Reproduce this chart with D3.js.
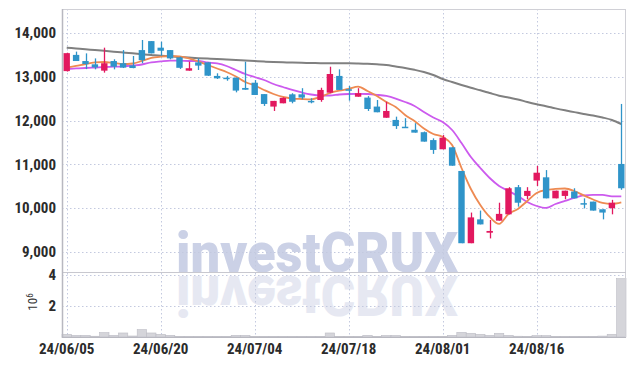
<!DOCTYPE html>
<html>
<head>
<meta charset="utf-8">
<script src="https://cdn.jsdelivr.net/npm/d3@7"></script>
<style>
  body { margin: 0; background: #fff; }
  text { font-family: "Liberation Sans Narrow", "Roboto Condensed", "DejaVu Sans Condensed", "Arial Narrow", sans-serif; }
</style>
</head>
<body>
<div id="chart"></div>
<script>
// trading days, 24/06/05 .. 24/08/29
const dates = [
  "24/06/05","24/06/07","24/06/10","24/06/11","24/06/12","24/06/13","24/06/14","24/06/17","24/06/18","24/06/19",
  "24/06/20","24/06/21","24/06/24","24/06/25","24/06/26","24/06/27","24/06/28","24/07/01","24/07/02","24/07/03",
  "24/07/04","24/07/05","24/07/08","24/07/09","24/07/10","24/07/11","24/07/12","24/07/15","24/07/16","24/07/17",
  "24/07/18","24/07/19","24/07/22","24/07/23","24/07/24","24/07/25","24/07/26","24/07/29","24/07/30","24/07/31",
  "24/08/01","24/08/02","24/08/05","24/08/06","24/08/07","24/08/08","24/08/09","24/08/12","24/08/13","24/08/14",
  "24/08/16","24/08/19","24/08/20","24/08/21","24/08/22","24/08/23","24/08/26","24/08/27","24/08/28","24/08/29"
];
const openP = [
  13130,13500,13360,13285,13140,13360,13310,13260,13610,13815,
  13665,13610,13440,13140,13330,13330,13020,12980,12980,12745,
  12865,12605,12320,12395,12600,12600,12450,12470,12637,13020,
  12715,12545,12525,12320,12065,12015,11860,11790,11735,11555,
  11345,11390,10850,9200,9745,9440,9715,9860,10480,10280,
  10630,10705,10225,10280,10380,10115,10150,9975,10000,11010
];
const highP = [
  13550,13575,13535,13420,13665,13400,13610,13475,13840,13815,
  13800,13610,13460,13345,13420,13330,13080,13020,12980,13345,
  12925,12605,12450,12530,12625,12740,12510,12750,13230,13170,
  12790,12740,12560,12470,12430,12090,12055,11940,11750,11595,
  11670,11390,10850,9900,9945,9730,10125,10480,10530,10480,
  10965,10870,10400,10400,10455,10225,10150,9975,10190,12380
];
const lowP = [
  13120,13360,13175,13170,13095,13170,13200,13195,13310,13535,
  13480,13400,13180,13140,13155,13020,12950,12910,12645,12705,
  12585,12335,12220,12395,12395,12485,12395,12430,12625,12700,
  12455,12545,12220,12190,12065,11810,11840,11725,11520,11240,
  11345,10970,9200,9200,9630,9310,9715,9860,10035,10205,
  10505,10225,10225,10205,10225,9995,9945,9745,9860,10420
];
const closeP = [
  13540,13360,13290,13215,13310,13230,13210,13200,13380,13535,
  13595,13420,13205,13195,13255,13025,12965,12960,12685,12705,
  12585,12380,12450,12520,12430,12525,12420,12700,13064,12700,
  12685,12625,12265,12190,12220,11875,11840,11725,11520,11330,
  11610,10970,9200,9790,9630,9480,9870,10455,10125,10395,
  10810,10225,10400,10400,10225,10100,9945,9900,10125,10455
];
const volume = [
  175000,110000,110000,50000,285000,110000,260000,65000,480000,260000,
  175000,110000,45000,40000,45000,40000,45000,40000,110000,110000,
  45000,40000,45000,40000,45000,40000,45000,40000,260000,45000,
  40000,45000,110000,45000,100000,100000,45000,40000,45000,40000,
  45000,110000,300000,240000,175000,110000,240000,110000,50000,40000,
  90000,90000,40000,45000,40000,45000,40000,60000,175000,3770000
];
// moving averages
const maShort = [
  13208,13247,13292,13327,13338,13315,13292,13304,13361,13430,
  13460,13475,13464,13422,13350,13270,13190,13110,13007,12881,
  12801,12699,12607,12539,12504,12493,12486,12539,12630,12683,
  12722,12774,12676,12562,12425,12311,12128,11991,11820,11694,
  11626,11443,10918,10438,10073,9799,9640,9868,9982,10165,
  10347,10416,10439,10450,10393,10291,10199,10119,10096,10130
];
const maMid = [
  13178,13190,13201,13212,13224,13231,13240,13258,13281,13327,
  13350,13368,13368,13361,13361,13327,13304,13247,13155,13064,
  12995,12927,12836,12767,12699,12642,12596,12573,12573,12596,
  12607,12612,12607,12589,12562,12504,12425,12333,12196,12071,
  11968,11785,11489,11169,10918,10689,10507,10393,10279,10142,
  10050,10005,10096,10165,10233,10291,10302,10302,10268,10268
];
const maLong = [
  13664,13646,13628,13612,13594,13573,13555,13537,13516,13498,
  13479,13468,13452,13438,13425,13415,13406,13395,13384,13370,
  13358,13347,13338,13331,13324,13320,13315,13311,13308,13308,
  13308,13304,13297,13285,13269,13235,13201,13160,13110,13041,
  12950,12881,12813,12749,12692,12630,12569,12525,12482,12425,
  12374,12329,12279,12234,12193,12151,12117,12071,12014,11922
];
const priceTicks = [9000, 10000, 11000, 12000, 13000, 14000];
const volumeTicks = [2000000, 4000000];
const dateTicks = ["24/06/05","24/06/20","24/07/04","24/07/18","24/08/01","24/08/16"];

const W = 635, H = 366;
const mLeft = 62, mRight = 626, mTop = 9, mSplit = 272, mBottom = 337;

const svg = d3.select("#chart").append("svg")
    .attr("width", W)
    .attr("height", H);

const x = d3.scaleBand().domain(dates).range([mLeft, mRight]).padding(0);
const cx = d => x(d) + x.bandwidth() / 2;
const y = d3.scaleLinear().domain([8543, 14548]).range([mSplit, mTop]);
const yv = d3.scaleLinear().domain([0, 4200000]).range([mBottom, mSplit]);

// clip paths
const defs = svg.append("defs");
defs.append("clipPath").attr("id", "clipPrice")
  .append("rect").attr("x", mLeft).attr("y", mTop).attr("width", mRight - mLeft).attr("height", mSplit - mTop);
defs.append("clipPath").attr("id", "clipVol")
  .append("rect").attr("x", mLeft).attr("y", mSplit).attr("width", mRight - mLeft).attr("height", mBottom - mSplit);

// watermark and its reflection
svg.append("g").attr("clip-path", "url(#clipPrice)")
  .append("text")
    .attr("x", 176).attr("y", mSplit)
    .attr("textLength", 282).attr("lengthAdjust", "spacingAndGlyphs")
    .style("font-family", "Roboto, 'DejaVu Sans', sans-serif")
    .style("font-weight", 900).style("font-size", "55px")
    .style("fill", "#cbd1e6")
    .text("investCRUX");
svg.append("g").attr("clip-path", "url(#clipVol)")
  .append("text")
    .attr("x", 176).attr("y", mSplit)
    .attr("transform", "translate(0," + (2 * mSplit + 4) + ") scale(1,-1)")
    .attr("textLength", 282).attr("lengthAdjust", "spacingAndGlyphs")
    .style("font-family", "Roboto, 'DejaVu Sans', sans-serif")
    .style("font-weight", 900).style("font-size", "55px")
    .style("fill", "#e6e8f2")
    .text("investCRUX");

// grid
const grid = svg.append("g")
    .attr("stroke", "#c3c9df")
    .attr("stroke-width", 1)
    .attr("stroke-dasharray", "1.5,2.5");
grid.selectAll(".hp").data(priceTicks).enter().append("line")
    .attr("x1", mLeft).attr("x2", mRight)
    .attr("y1", d => Math.round(y(d)) + 0.5).attr("y2", d => Math.round(y(d)) + 0.5);
grid.selectAll(".hv").data(volumeTicks).enter().append("line")
    .attr("x1", mLeft).attr("x2", mRight)
    .attr("y1", d => Math.round(yv(d)) + 0.5).attr("y2", d => Math.round(yv(d)) + 0.5);
grid.selectAll(".vt").data(dateTicks).enter().append("line")
    .attr("x1", d => Math.round(cx(d)) + 0.5).attr("x2", d => Math.round(cx(d)) + 0.5)
    .attr("y1", mTop).attr("y2", mBottom);

// volume bars
svg.append("g").selectAll("rect")
    .data(dates)
    .enter()
    .append("rect")
      .attr("x", d => x(d))
      .attr("width", x.bandwidth())
      .attr("y", (d, i) => yv(volume[i]))
      .attr("height", (d, i) => mBottom - yv(volume[i]))
      .style("fill", "#d5d5da")
      .style("stroke", "#bdbdc5")
      .style("stroke-width", 0.6);

// moving averages
const line = arr => d3.line()
    .x((d, i) => cx(dates[i]))
    .y(d => y(d))
    .curve(d3.curveMonotoneX)(arr);
const maG = svg.append("g").attr("clip-path", "url(#clipPrice)").attr("fill", "none");
maG.append("path").attr("d", line(maLong)).attr("stroke", "#808080").attr("stroke-width", 2);
maG.append("path").attr("d", line(maMid)).attr("stroke", "#cc5aee").attr("stroke-width", 1.8);
maG.append("path").attr("d", line(maShort)).attr("stroke", "#ee8a52").attr("stroke-width", 1.8);

// candles
const up = "#e2185f", down = "#2f94c9";
const bodyW = 6.4;
const candles = svg.append("g").selectAll("g")
    .data(dates)
    .enter()
    .append("g");
candles.append("line")
    .attr("x1", d => Math.round(cx(d)) + 0.5).attr("x2", d => Math.round(cx(d)) + 0.5)
    .attr("y1", (d, i) => y(highP[i])).attr("y2", (d, i) => y(lowP[i]))
    .attr("stroke", (d, i) => closeP[i] >= openP[i] ? up : down)
    .attr("stroke-width", 1.3);
candles.append("rect")
    .attr("x", d => cx(d) - bodyW / 2)
    .attr("width", bodyW)
    .attr("y", (d, i) => y(Math.max(openP[i], closeP[i])))
    .attr("height", (d, i) => Math.max(1.5, Math.abs(y(openP[i]) - y(closeP[i]))))
    .attr("fill", (d, i) => closeP[i] >= openP[i] ? up : down);

// frame
const frame = svg.append("g").attr("fill", "none");
frame.append("rect")
    .attr("x", mLeft + 0.5).attr("y", mTop + 0.5)
    .attr("width", mRight - mLeft - 1).attr("height", mBottom - mTop)
    .attr("stroke", "#d0d0d6");
frame.append("line")
    .attr("x1", mLeft).attr("x2", mRight).attr("y1", mSplit + 0.5).attr("y2", mSplit + 0.5)
    .attr("stroke", "#c8c8cf");
frame.append("line")
    .attr("x1", mLeft + 0.5).attr("x2", mLeft + 0.5).attr("y1", mTop).attr("y2", mBottom + 1)
    .attr("stroke", "#b8b8c0").attr("stroke-width", 1.5);
frame.append("line")
    .attr("x1", mLeft).attr("x2", mRight).attr("y1", mBottom + 0.5).attr("y2", mBottom + 0.5)
    .attr("stroke", "#b8b8c0").attr("stroke-width", 1.2);

// axis labels
const fmt = d3.format(",");
svg.append("g").selectAll("text")
    .data(priceTicks)
    .enter()
    .append("text")
      .attr("x", 56)
      .attr("y", d => y(d))
      .attr("dy", "0.35em")
      .attr("text-anchor", "end")
      .style("font-size", "15px").style("font-weight", "bold").style("fill", "#2b2b2b")
      .text(d => fmt(d));
svg.append("g").selectAll("text")
    .data(volumeTicks)
    .enter()
    .append("text")
      .attr("x", 56)
      .attr("y", d => yv(d))
      .attr("dy", "0.35em")
      .attr("text-anchor", "end")
      .style("font-size", "15px").style("font-weight", "bold").style("fill", "#2b2b2b")
      .text(d => d / 1000000);
const unit = svg.append("text")
    .attr("transform", "translate(37,302) rotate(-90)")
    .attr("text-anchor", "middle")
    .style("font-size", "13px").style("fill", "#333");
unit.append("tspan").text("10");
unit.append("tspan").attr("dy", "-0.45em").style("font-size", "9px").text("6");

svg.append("g").selectAll("text")
    .data(dateTicks)
    .enter()
    .append("text")
      .attr("x", d => cx(d))
      .attr("y", 349)
      .attr("dy", "0.35em")
      .attr("text-anchor", "middle")
      .style("font-size", "15px").style("font-weight", "bold").style("fill", "#2b2b2b")
      .text(d => d);
</script>
</body>
</html>
